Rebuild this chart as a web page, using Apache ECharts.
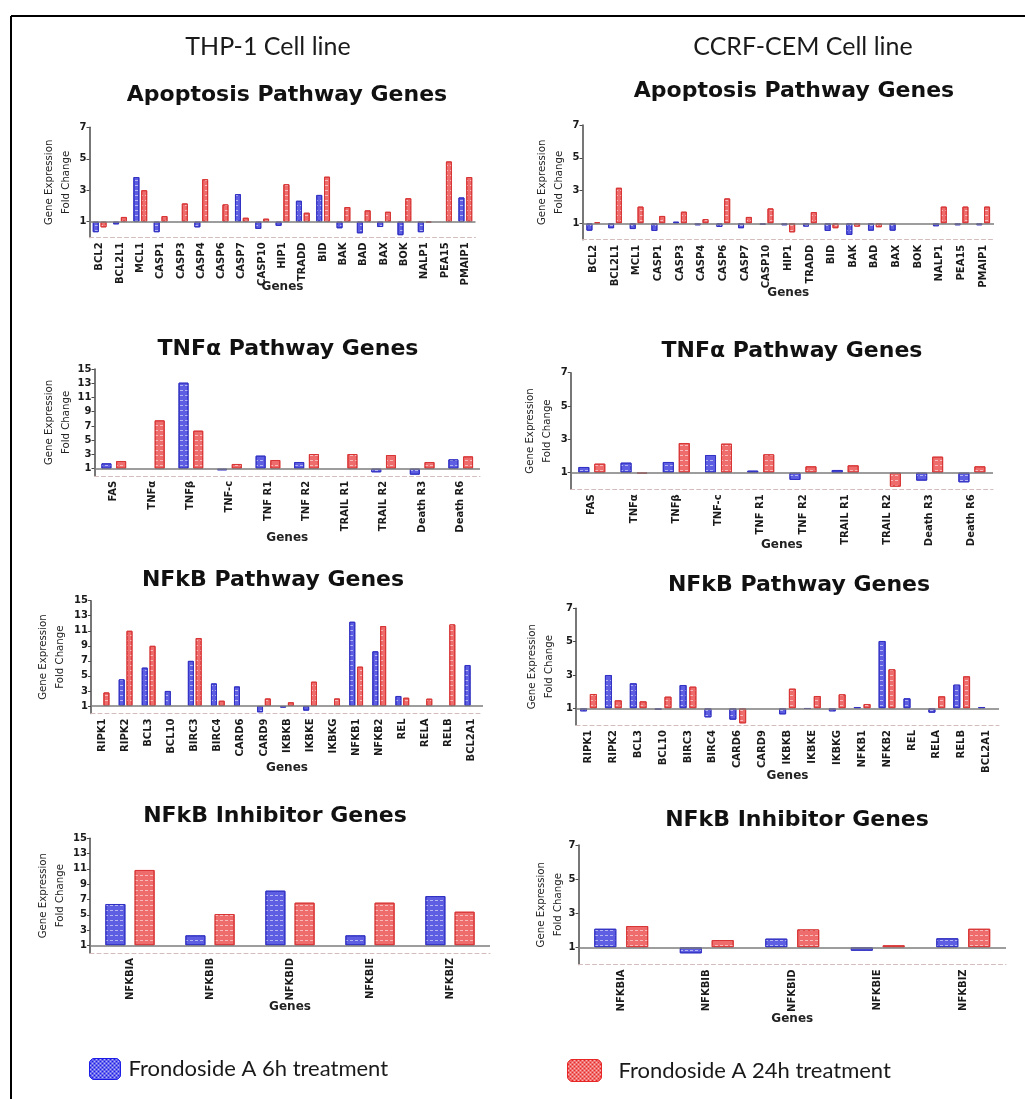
<!DOCTYPE html>
<html>
<head>
<meta charset="utf-8">
<script src="https://cdn.jsdelivr.net/npm/echarts@6/dist/echarts.min.js"></script>
<style>
  html, body { margin: 0; padding: 0; background: #ffffff; }
  #chart { width: 1025px; height: 1099px; }
</style>
</head>
<body>
<div id="chart"></div>
<script>
// ---- Gene lists ----
const apoptosisGenes = ['BCL2','BCL2L1','MCL1','CASP1','CASP3','CASP4','CASP6','CASP7','CASP10','HIP1','TRADD','BID','BAK','BAD','BAX','BOK','NALP1','PEA15','PMAIP1'];
const tnfGenes = ['FAS','TNFα','TNFβ','TNF-c','TNF R1','TNF R2','TRAIL R1','TRAIL R2','Death R3','Death R6'];
const nfkbGenes = ['RIPK1','RIPK2','BCL3','BCL10','BIRC3','BIRC4','CARD6','CARD9','IKBKB','IKBKE','IKBKG','NFKB1','NFKB2','REL','RELA','RELB','BCL2A1'];
const inhibitorGenes = ['NFKBIA','NFKBIB','NFKBID','NFKBIE','NFKBIZ'];

// ---- Fold change values (1 = unchanged) ----
const thpApoptosis6h  = [0.33,0.83,3.84,0.33,1,0.64,1,2.75,0.54,0.73,2.33,2.70,0.58,0.26,0.66,0.14,0.33,1,2.54];
const thpApoptosis24h = [0.64,1.30,3.00,1.36,2.16,3.70,2.10,1.25,1.19,3.38,1.57,3.86,1.93,1.72,1.63,2.49,0.95,4.83,3.84];
const cemApoptosis6h  = [0.55,0.70,0.65,0.53,1.10,0.88,0.78,0.70,0.90,0.88,0.80,0.53,0.29,0.55,0.55,1,0.82,0.88,0.88];
const cemApoptosis24h = [1.06,3.17,2.02,1.45,1.71,1.26,2.52,1.39,1.91,0.45,1.69,0.70,0.80,0.76,1,1,2.02,2.02,2.02];

const thpTnf6h  = [1.75,1,13.08,0.77,2.83,1.94,1,0.49,0.16,2.31];
const thpTnf24h = [2.08,7.79,6.34,1.66,2.22,3.06,3.06,2.92,1.94,2.73];
const cemTnf6h  = [1.34,1.60,1.64,2.06,1.12,0.56,1.16,1,0.52,0.42];
const cemTnf24h = [1.54,0.94,2.78,2.74,2.10,1.38,1.44,0.16,1.96,1.38];

const thpNfkb6h  = [1,4.54,6.10,3.00,7.00,4.00,3.60,0.16,0.78,0.38,1,12.20,8.27,2.33,1,1,6.45];
const thpNfkb24h = [2.80,11.00,9.00,1,10.04,1.70,1,2.00,1.49,4.23,2.00,6.23,11.63,2.10,1.97,11.85,1];
const cemNfkb6h  = [0.82,3.00,2.50,0.90,2.40,0.46,0.32,1,0.64,0.98,0.82,1.08,5.04,1.60,0.74,2.42,1.08];
const cemNfkb24h = [1.86,1.48,1.42,1.70,2.30,1,0.10,1,2.18,1.74,1.84,1.26,3.34,1,1.72,2.92,1];

const thpInhibitor6h  = [6.41,2.31,8.15,2.31,7.45];
const thpInhibitor24h = [10.86,5.10,6.58,6.58,5.40];
const cemInhibitor6h  = [2.09,0.65,1.51,0.80,1.53];
const cemInhibitor24h = [2.25,1.43,2.05,1.12,2.09];

// ---- Axis ticks ----
const foldTicksNarrow = [1,3,5,7];
const foldTicksWide = [1,3,5,7,9,11,13,15];

// ---- Text ----
const cellLines = ['THP-1 Cell line','CCRF-CEM Cell line'];
const panelTitles = ['Apoptosis Pathway Genes','TNFα Pathway Genes','NFkB Pathway Genes','NFkB Inhibitor Genes'];
const label6h = 'Frondoside A 6h treatment';
const label24h = 'Frondoside A 24h treatment';
const yName = 'Gene Expression\nFold Change';
const xName = 'Genes';

// ---- Panel layout ----
const panels = [
  { genes: apoptosisGenes, v6: thpApoptosis6h, v24: thpApoptosis24h, ticks: foldTicksNarrow, title: panelTitles[0],
    grid: {left: 89.5, top: 127.3, width: 386, height: 110.1}, barWidth: 6, barGap: '30%', xGap: 43, yGap: 15, titleX: 282, titleTop: 79 },
  { genes: apoptosisGenes, v6: cemApoptosis6h, v24: cemApoptosis24h, ticks: foldTicksNarrow, title: panelTitles[0],
    grid: {left: 582.5, top: 125, width: 411.5, height: 114.7}, barWidth: 6, barGap: '30%', xGap: 47, yGap: 15, titleX: 789, titleTop: 75 },
  { genes: tnfGenes, v6: thpTnf6h, v24: thpTnf24h, ticks: foldTicksWide, title: panelTitles[1],
    grid: {left: 94.5, top: 369, width: 385.5, height: 106.8}, barWidth: 10, barGap: '47%', xGap: 56, yGap: 20, titleX: 283, titleTop: 333 },
  { genes: tnfGenes, v6: cemTnf6h, v24: cemTnf24h, ticks: foldTicksNarrow, title: panelTitles[1],
    grid: {left: 570.7, top: 372.7, width: 422.3, height: 116.6}, barWidth: 11, barGap: '45%', xGap: 50, yGap: 15, titleX: 787, titleTop: 335 },
  { genes: nfkbGenes, v6: thpNfkb6h, v24: thpNfkb24h, ticks: foldTicksWide, title: panelTitles[2],
    grid: {left: 91, top: 600.7, width: 392, height: 112.8}, barWidth: 6, barGap: '30%', xGap: 48, yGap: 22, titleX: 268, titleTop: 564 },
  { genes: nfkbGenes, v6: cemNfkb6h, v24: cemNfkb24h, ticks: foldTicksNarrow, title: panelTitles[2],
    grid: {left: 576, top: 608.3, width: 423, height: 116.7}, barWidth: 7, barGap: '40%', xGap: 45, yGap: 18, titleX: 794, titleTop: 569 },
  { genes: inhibitorGenes, v6: thpInhibitor6h, v24: thpInhibitor24h, ticks: foldTicksWide, title: panelTitles[3],
    grid: {left: 90, top: 838.3, width: 400, height: 114.7}, barWidth: 20, barGap: '46%', xGap: 48, yGap: 21, titleX: 270, titleTop: 800 },
  { genes: inhibitorGenes, v6: cemInhibitor6h, v24: cemInhibitor24h, ticks: foldTicksNarrow, title: panelTitles[3],
    grid: {left: 578.5, top: 845, width: 427.5, height: 119.4}, barWidth: 22, barGap: '45%', xGap: 48, yGap: 12, titleX: 792, titleTop: 804 }
];

// ---- Styles ----
const stripes = {
  symbol: 'rect', symbolSize: 1,
  dashArrayX: [3, 2], dashArrayY: [1, 4],
  color: 'rgba(255,255,255,0.55)', rotation: 0
};
const blueBar = { color: '#5e5ee2', borderColor: '#3232c4', borderWidth: 1, decal: stripes };
const redBar  = { color: '#ef6c6c', borderColor: '#d83636', borderWidth: 1, decal: stripes };
const checker = {
  symbol: 'rect', symbolSize: 0.9,
  dashArrayX: [[2, 2], [0, 2, 2, 0]], dashArrayY: [2, 0],
  color: 'rgba(255,255,255,0.75)', rotation: 0
};

const grids = [], xAxes = [], yAxes = [], series = [], titles = [];

cellLines.forEach((t, i) => {
  titles.push({
    text: t, left: i === 0 ? 263 : 798, top: 29, textAlign: 'center',
    textStyle: { fontFamily: 'Lato', fontWeight: 'normal', fontSize: 25, color: '#1a1a1a' }
  });
});

panels.forEach((p, i) => {
  grids.push(Object.assign({ outerBoundsMode: 'none', containLabel: false }, p.grid));
  titles.push({
    text: p.title, left: p.titleX, top: p.titleTop, textAlign: 'center',
    textStyle: { fontFamily: 'DejaVu Sans', fontWeight: 'bold', fontSize: 22, color: '#111' }
  });
  xAxes.push({
    type: 'category', gridIndex: i, data: p.genes,
    name: xName, nameLocation: 'middle', nameGap: p.xGap, nameMoveOverlap: false,
    nameTextStyle: { fontFamily: 'DejaVu Sans', fontWeight: 'bold', fontSize: 12, color: '#222' },
    axisLine: { show: true, lineStyle: { color: '#d4bcbc', type: [4, 3], width: 1 } },
    axisTick: { show: false },
    axisLabel: { interval: 0, rotate: 90, margin: 5, fontFamily: 'DejaVu Sans', fontWeight: 'bold', fontSize: 10, color: '#1a1a1a' },
    splitLine: { show: false }
  });
  const top = p.ticks[p.ticks.length - 1];
  yAxes.push({
    type: 'value', gridIndex: i, min: 0, max: top,
    name: yName, nameLocation: 'middle', nameRotate: 90, nameGap: p.yGap, nameMoveOverlap: false,
    nameTextStyle: { fontFamily: 'DejaVu Sans', fontSize: 10.2, lineHeight: 17, color: '#222' },
    axisLine: { show: true, lineStyle: { color: '#4a4a4a', width: 1.5 } },
    axisTick: { show: true, length: 3, customValues: p.ticks, lineStyle: { color: '#4a4a4a' } },
    axisLabel: { customValues: p.ticks, margin: 3, fontFamily: 'DejaVu Sans', fontWeight: 'bold', fontSize: 10, color: '#1a1a1a' },
    splitLine: { show: false }
  });

  // Bars grow from the no-change line at 1: a transparent stacked base
  // lifts each visible segment so it spans between 1 and the value.
  [[p.v6, label6h, blueBar], [p.v24, label24h, redBar]].forEach(([vals, name, style], k) => {
    const stack = 'p' + i + '-' + k;
    series.push({
      type: 'bar', name: '_base', xAxisIndex: i, yAxisIndex: i, stack: stack,
      data: vals.map(v => Math.min(v, 1)),
      barWidth: p.barWidth, barGap: p.barGap, silent: true,
      itemStyle: { color: 'rgba(0,0,0,0)', borderWidth: 0 },
      markLine: k === 0 ? {
        silent: true, symbol: 'none', label: { show: false }, animation: false,
        lineStyle: { color: '#7c7c7c', width: 1.5, type: 'solid' },
        data: [{ yAxis: 1 }]
      } : undefined
    });
    series.push({
      type: 'bar', name: name, xAxisIndex: i, yAxisIndex: i, stack: stack,
      data: vals.map(v => (Math.abs(v - 1) < 1e-9 ? null : Math.abs(v - 1))),
      barWidth: p.barWidth, barGap: p.barGap,
      itemStyle: style
    });
  });
});

const chart = echarts.init(document.getElementById('chart'), null, { renderer: 'canvas' });
chart.setOption({
  animation: false,
  backgroundColor: '#ffffff',
  title: titles,
  grid: grids,
  xAxis: xAxes,
  yAxis: yAxes,
  series: series,
  legend: [
    {
      left: 84, top: 1053, icon: 'roundRect', itemWidth: 31, itemHeight: 21, selectedMode: false,
      data: [{ name: label6h, itemStyle: { color: '#1c1ce6', borderColor: '#1c1ce6', borderWidth: 1, decal: checker } }],
      textStyle: { fontFamily: 'Lato', fontSize: 22, color: '#1a1a1a', padding: [0, 0, 0, 3] }
    },
    {
      left: 562, top: 1054, icon: 'roundRect', itemWidth: 34, itemHeight: 22, selectedMode: false,
      data: [{ name: label24h, itemStyle: { color: '#e82626', borderColor: '#e82626', borderWidth: 1, decal: checker } }],
      textStyle: { fontFamily: 'Lato', fontSize: 22, color: '#1a1a1a', padding: [0, 0, 0, 12] }
    }
  ],
  graphic: [
    { type: 'line', silent: true, shape: { x1: 11, y1: 16, x2: 1025, y2: 16 }, style: { stroke: '#000', lineWidth: 2 } },
    { type: 'line', silent: true, shape: { x1: 11, y1: 16, x2: 11, y2: 1099 }, style: { stroke: '#000', lineWidth: 2 } }
  ]
});
</script>
</body>
</html>
